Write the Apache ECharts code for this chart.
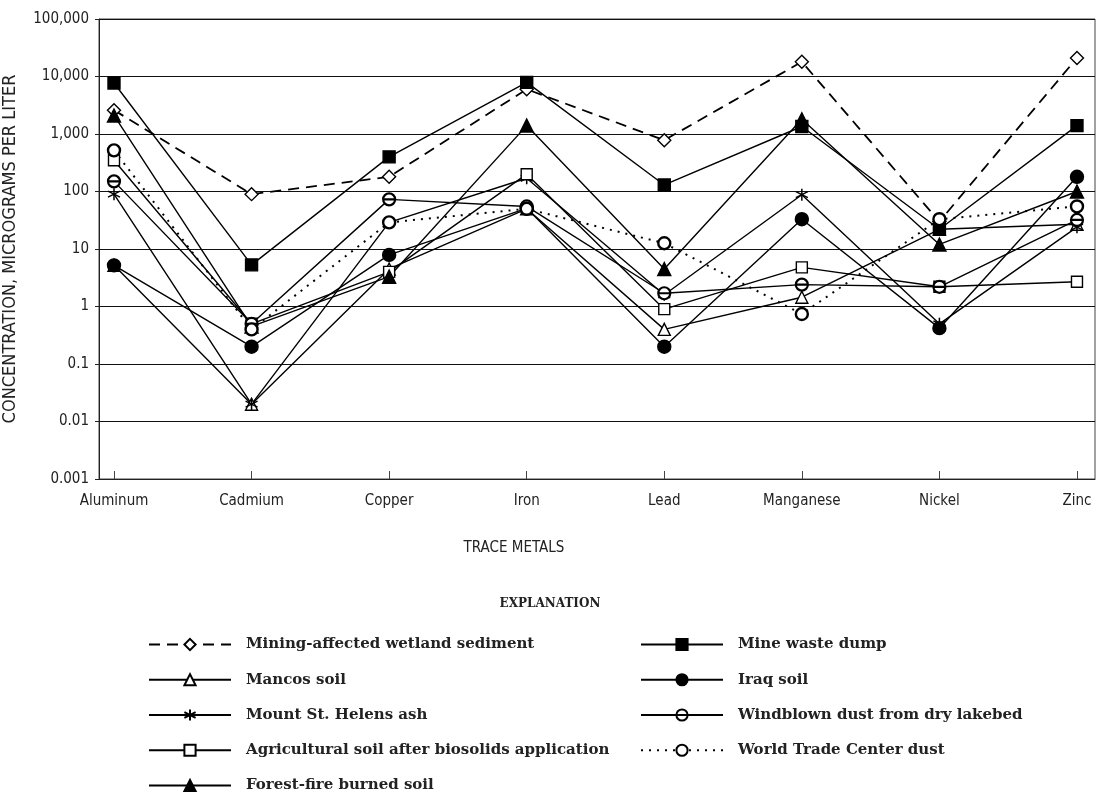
<!DOCTYPE html>
<html>
<head>
<meta charset="utf-8">
<script src="https://cdn.jsdelivr.net/npm/echarts@6/dist/echarts.min.js"></script>
<style>
html,body{margin:0;padding:0;background:#fff;}
#chart{width:1098px;height:805px;}
</style>
</head>
<body>
<div id="chart"></div>
<script>
const categories = ['Aluminum','Cadmium','Copper','Iron','Lead','Manganese','Nickel','Zinc'];
const yTickValues = [0.001, 0.01, 0.1, 1, 10, 100, 1000, 10000, 100000];

const miningWetland = [2600, 90, 180, 6000, 780, 18000, 30, 21000];
const mancosSoil = [5.2, 0.02, 4.5, 50, 0.4, 1.45, 22, 27];
const stHelensAsh = [90, 0.02, 29, 170, 1.6, 88, 0.5, 24];
const agriculturalSoil = [350, 0.5, 4, 200, 0.9, 4.8, 2.2, 2.7];
const forestFireSoil = [2100, 0.45, 3.3, 1400, 4.5, 1800, 12, 100];
const mineWasteDump = [7700, 5.3, 400, 7900, 130, 1350, 22, 1400];
const iraqSoil = [5.2, 0.2, 7.9, 51, 0.2, 33, 0.42, 180];
const windblownDust = [150, 0.5, 73, 55, 1.7, 2.4, 2.2, 32];
const wtcDust = [520, 0.4, 29, 50, 12.6, 0.74, 33, 55];

const NARROW = '"Liberation Sans Narrow","Arial Narrow","DejaVu Sans Condensed",sans-serif';
const SERIF = '"DejaVu Serif","Liberation Serif",serif';

const pts = arr => arr.map((v, i) => [i, v]);
const ASTERISK = 'path://M5,0L5,10M0.67,2.5L9.33,7.5M0.67,7.5L9.33,2.5';
const BARCIRCLE = 'path://M0,5A5,5,0,1,1,10,5A5,5,0,1,1,0,5ZM0,5L10,5';

function mk(name, data, symbol, size, filled, lineType, lineWidth, bw) {
  return {
    name: name,
    type: 'line',
    data: pts(data),
    symbol: symbol,
    symbolSize: size,
    showAllSymbol: true,
    animation: false,
    lineStyle: {color: '#000', width: lineWidth || 1.4, type: lineType || 'solid'},
    itemStyle: {color: filled ? '#000' : '#fff', borderColor: '#000', borderWidth: bw || 1.4, opacity: 1},
    emphasis: {disabled: true}
  };
}

const series = [
  mk('Mining-affected wetland sediment', miningWetland, 'diamond', 13, false, [11, 7], 1.8, 1.4),
  mk('Mancos soil', mancosSoil, 'triangle', 12, false),
  mk('Mount St. Helens ash', stHelensAsh, ASTERISK, 12, false, 'solid', 1.4, 1.5),
  mk('Agricultural soil after biosolids application', agriculturalSoil, 'rect', 11, false),
  mk('Forest-fire burned soil', forestFireSoil, 'triangle', 13, true),
  mk('Mine waste dump', mineWasteDump, 'rect', 12, true),
  mk('Iraq soil', iraqSoil, 'circle', 13, true),
  mk('Windblown dust from dry lakebed', windblownDust, BARCIRCLE, 12, false, 'solid', 1.4, 2.2),
  mk('World Trade Center dust', wtcDust, 'circle', 12, false, [2, 6], 2, 2.4)
];

const legendCommon = {
  orient: 'vertical',
  padding: 0,
  itemWidth: 82,
  itemHeight: 14,
  itemGap: 20.25,
  selectedMode: false,
  textStyle: {fontFamily: SERIF, fontWeight: 'bold', fontSize: 15, color: '#222', padding: [0, 0, 0, 10]}
};

const chart = echarts.init(document.getElementById('chart'), null, {renderer: 'canvas'});
chart.setOption({
  backgroundColor: '#fff',
  animation: false,
  grid: {left: 99, right: 3, top: 19, bottom: 326, show: true, borderColor: '#444', borderWidth: 1, containLabel: false, outerBoundsMode: 'none'},
  xAxis: {
    type: 'value',
    min: -0.109,
    max: 7.131,
    axisLine: {show: true, onZero: false, lineStyle: {color: '#222', width: 1}},
    axisTick: {show: true, inside: true, length: 8, customValues: categories.map((c, i) => i), lineStyle: {color: '#444'}},
    axisLabel: {customValues: categories.map((c, i) => i), formatter: v => categories[Math.round(v)], fontFamily: NARROW, fontSize: 15, color: '#222', margin: 15},
    splitLine: {show: false}
  },
  yAxis: {
    type: 'log',
    logBase: 10,
    min: yTickValues[0],
    max: yTickValues[yTickValues.length - 1],
    splitNumber: 8,
    axisLine: {show: true, onZero: false, lineStyle: {color: '#222'}},
    axisTick: {show: true, length: 4, lineStyle: {color: '#222'}},
    axisLabel: {
      fontFamily: NARROW, fontSize: 15, color: '#222', margin: 10,
      formatter: v => { const n = Number(v.toPrecision(3)); return n >= 1 ? n.toLocaleString('en-US') : String(n); }
    },
    splitLine: {show: true, lineStyle: {color: '#111', width: 1}},
    name: 'CONCENTRATION, MICROGRAMS PER LITER',
    nameLocation: 'middle',
    nameGap: 80,
    nameTextStyle: {fontFamily: NARROW, fontSize: 18, color: '#222'}
  },
  legend: [
    Object.assign({left: 148, top: 637, data: series.slice(0, 5).map(s => s.name)}, legendCommon),
    Object.assign({left: 640, top: 637, data: series.slice(5).map(s => s.name)}, legendCommon)
  ],
  graphic: [
    {type: 'text', x: 514, y: 548, style: {text: 'TRACE METALS', fontFamily: NARROW, fontSize: 15, fill: '#222', textAlign: 'center', textVerticalAlign: 'middle'}},
    {type: 'text', x: 550, y: 604, style: {text: 'EXPLANATION', fontFamily: SERIF, fontWeight: 'bold', fontSize: 12, fill: '#222', textAlign: 'center', textVerticalAlign: 'middle'}}
  ],
  series: series
});
</script>
</body>
</html>
